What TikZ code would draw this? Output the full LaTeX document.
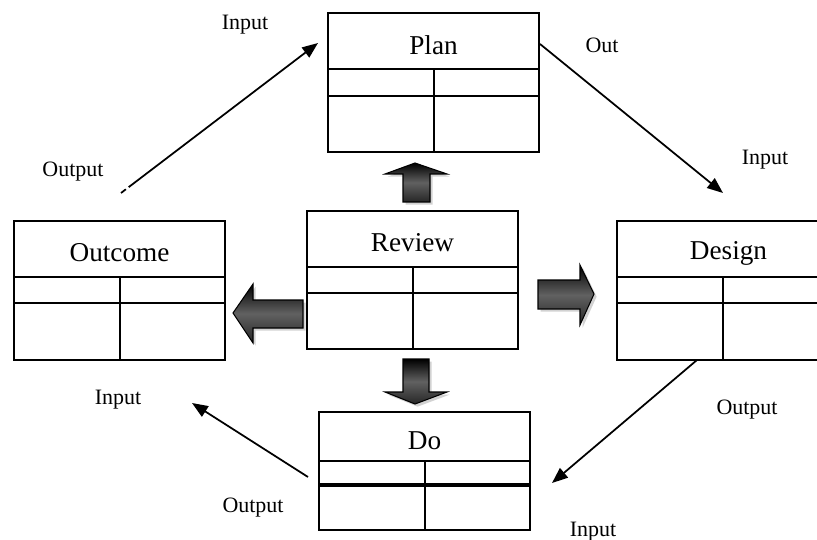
\documentclass[tikz,border=0pt]{standalone}
\usepackage{fontspec}
\setmainfont{Liberation Serif}
\usetikzlibrary{arrows.meta,calc,fit,shadows}
\tikzstyle{stage}=[draw, line width=0.9pt, inner sep=0pt]
\tikzstyle{stagetitle}=[font=\fontsize{15.5}{18}\selectfont]
\tikzstyle{flowlabel}=[font=\fontsize{12.5}{15}\selectfont]
\tikzstyle{flow}=[line width=1pt, -{Triangle[length=9pt,width=7pt]}]
\tikzstyle{blockarrow}=[draw=black, line width=0.6pt, top color=black, bottom color=black!85, middle color=black!62, drop shadow={shadow xshift=1.5pt, shadow yshift=-1.5pt, fill=black!35}]
\newcommand{\stagebox}[9]{
	\node[stage, fit={(#2,#3) (#4,#5)}] (#1) {};
	\draw[line width=0.9pt] (#2,#6) -- (#4,#6);
	\draw[line width=0.9pt] (#2,#7) -- (#4,#7);
	\draw[line width=0.9pt] (#8,#6) -- (#8,#5);
	\node[stagetitle] (#1-title) at ($(#2,#3)!.5!(#4,#6)+(0,4)$) {#9};
}
\begin{document}
\begin{tikzpicture}[x=0.02cm, y=-0.02cm]
	\clip (0,0) rectangle (817,540);
	\stagebox{plan}{328}{13}{539}{152}{69}{96}{434}{Plan}
	\stagebox{review}{307}{211}{518}{349}{267}{293}{413}{Review}
	\stagebox{outcome}{14}{221}{225}{360}{277}{303}{120}{Outcome}
	\stagebox{design}{617}{221}{840}{360}{277}{303}{723}{Design}
	\stagebox{do}{319}{412}{530}{530}{461}{485}{425}{Do}
	\draw[line width=1.8pt] (319,485) -- (530,485);
	% block arrows out of review
	\path[blockarrow] (403,202) -- (403,174) -- (385,174) -- (415,163) -- (447,174) -- (430,174) -- (430,202) -- cycle;
	\path[blockarrow] (403,359) -- (429,359) -- (429,392) -- (447,392) -- (415,404) -- (385,392) -- (403,392) -- cycle;
	\path[blockarrow] (303,300) -- (253,300) -- (253,284) -- (233,313) -- (253,343) -- (253,328) -- (303,328) -- cycle;
	\path[blockarrow] (538,280) -- (580,280) -- (580,265) -- (594,294) -- (580,325) -- (580,309) -- (538,309) -- cycle;
	% labels
	\node[flowlabel] (plan-in) at (245,25) {Input};
	\node[flowlabel] (outcome-out) at (73,172) {Output};
	\node[flowlabel] (plan-out) at (602,45) {Out};
	\node[flowlabel] (design-in) at (765,160) {Input};
	\node[flowlabel] (design-out) at (747,410) {Output};
	\node[flowlabel] (do-in) at (593,532) {Input};
	\node[flowlabel] (do-out) at (253,508) {Output};
	\node[flowlabel] (outcome-in) at (118,400) {Input};
	% connector ends
	\coordinate (c-outcome) at (121,193);
	\coordinate (c-planin) at (318,43);
	\coordinate (c-planout) at (540,44);
	\coordinate (c-designin) at (723,193);
	\coordinate (c-designout) at (697,360);
	\coordinate (c-doin) at (552,483);
	\coordinate (c-doout) at (308,477);
	\coordinate (c-outcomein) at (192,403);
	\draw[flow, dash pattern=on 3.5pt off 2pt on 400pt] (c-outcome) -- (c-planin);
	\draw[flow] (c-planout) -- (c-designin);
	\draw[flow] (c-designout) -- (c-doin);
	\draw[flow] (c-doout) -- (c-outcomein);
\end{tikzpicture}
\end{document}
